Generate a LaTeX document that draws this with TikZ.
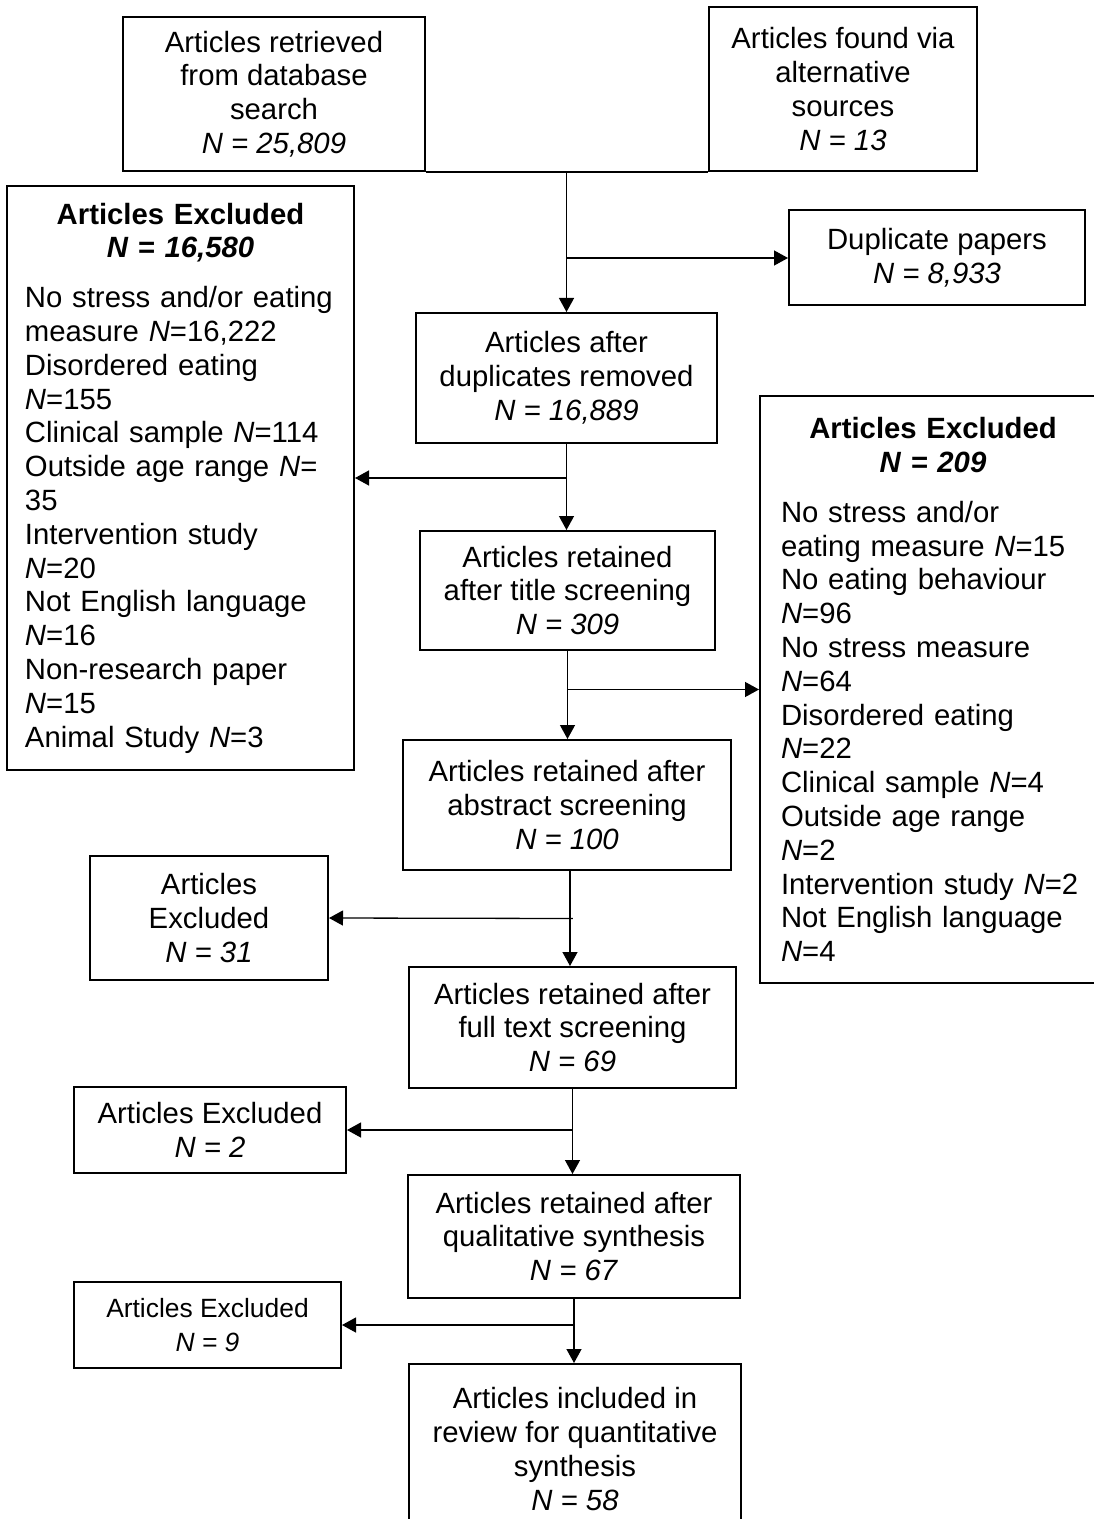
\documentclass[tikz,border=0pt]{standalone}
\usepackage{fontspec}
\setmainfont{Liberation Sans}
\usepackage{tikz}
\usetikzlibrary{calc,arrows.meta}
\newcommand{\boxfont}{\fontsize{14.65}{16.9}\selectfont}
\newcommand{\smallboxfont}{\fontsize{13.2}{16.9}\selectfont}

\begin{document}
\begin{tikzpicture}[
  x=0.5pt, y=-0.5pt,
  stage/.style={draw, line width=1pt, align=center, inner sep=0pt,
    font=\boxfont},
  listbox/.style={draw, line width=1pt, inner xsep=9pt, inner ysep=0pt,
    font=\boxfont},
  link/.style={line width=0.65pt},
  flow/.style={line width=0.65pt, -{Triangle[length=7pt, width=7.5pt]}},
]
  \useasboundingbox (0,0) rectangle (1093,1519);

  % Sources
  \node[stage, minimum width=151pt, minimum height=77pt] (srch) at (274,94)
    {Articles retrieved\\ from database\\ search\\ \textit{N = 25,809}};
  \node[stage, minimum width=134pt, minimum height=82pt] (altsrc) at (843,89)
    {Articles found via\\ alternative\\ sources\\ \textit{N = 13}};
  \node[stage, minimum width=148pt, minimum height=47.5pt] (dupl) at (937,258)
    {Duplicate papers\\ \textit{N = 8,933}};

  % Main column
  \node[stage, minimum width=150.5pt, minimum height=65pt] (dedup) at (566.5,378)
    {Articles after\\ duplicates removed\\ \textit{N = 16,889}};
  \node[stage, minimum width=147.5pt, minimum height=59.5pt] (title) at (567.5,590.5)
    {Articles retained\\ after title screening\\ \textit{N = 309}};
  \node[stage, minimum width=164pt, minimum height=65pt] (abstr) at (567,805)
    {Articles retained after\\ abstract screening\\ \textit{N = 100}};
  \node[stage, minimum width=163.5pt, minimum height=60.5pt] (fullt) at (572.5,1027.5)
    {Articles retained after\\ full text screening\\ \textit{N = 69}};
  \node[stage, minimum width=166pt, minimum height=61.5pt] (quali) at (574,1236.5)
    {Articles retained after\\ qualitative synthesis\\ \textit{N = 67}};
  \node[stage, minimum width=166pt, minimum height=85pt] (incl) at (575,1449)
    {Articles included in\\ review for quantitative\\ synthesis\\ \textit{N = 58}};

  % Exclusion lists
  \node[listbox, text width=155.5pt, minimum height=292pt] (exclA) at (180.5,478)
    {{\centering\textbf{Articles Excluded}\\ \textbf{\textit{N = 16,580}}\par}
     \vspace{8pt}\raggedright\noindent
     No stress and/or eating\\ measure \textit{N}=16,222\\ Disordered eating\\
     \textit{N}=155\\ Clinical sample \textit{N}=114\\ Outside age range \textit{N}=\\
     35\\ Intervention study\\ \textit{N}=20\\ Not English language\\ \textit{N}=16\\
     Non-research paper\\ \textit{N}=15\\ Animal Study \textit{N}=3};
  \node[listbox, inner xsep=10.5pt, text width=152pt, minimum height=293.5pt]
    (exclB) at (933,689.5)
    {{\centering\textbf{Articles Excluded}\\ \textbf{\textit{N = 209}}\par}
     \vspace{8pt}\raggedright\noindent
     No stress and/or\\ eating measure \textit{N}=15\\ No eating behaviour\\
     \textit{N}=96\\ No stress measure\\ \textit{N}=64\\ Disordered eating\\
     \textit{N}=22\\ Clinical sample \textit{N}=4\\ Outside age range\\ \textit{N}=2\\
     Intervention study \textit{N}=2\\ Not English language\\ \textit{N}=4};
  \node[stage, minimum width=119pt, minimum height=62pt] (exclC) at (209,918)
    {Articles\\ Excluded\\ \textit{N = 31}};
  \node[stage, minimum width=136pt, minimum height=43pt] (exclD) at (210,1130)
    {Articles Excluded\\ \textit{N = 2}};
  \node[stage, minimum width=133.5pt, minimum height=43pt, font=\smallboxfont]
    (exclE) at (207.5,1325) {Articles Excluded\\ \textit{N = 9}};

  % Branch points
  \coordinate (j0) at (dedup.north |- srch.south);
  \coordinate (j1) at (dedup.north |- dupl.west);
  \coordinate (j2) at (dedup.south |- exclA.east);
  \coordinate (j3) at (title.south |- exclB.west);
  \coordinate (j4) at ($(abstr.south)!0.5!(fullt.north)$);
  \coordinate (j5) at (fullt.south |- exclD.east);
  \coordinate (j6) at (quali.south |- exclE.east);

  % Connectors
  \draw[link] (srch.south east) -- (altsrc.south west);
  \draw[flow] (j0) -- (dedup.north);
  \draw[flow] (j1) -- (dupl.west);
  \draw[flow] (dedup.south) -- (dedup.south |- title.north);
  \draw[flow] (j2) -- (exclA.east);
  \draw[flow] (title.south) -- (title.south |- abstr.north);
  \draw[flow] (j3) -- (exclB.west);
  \draw[flow] ($(abstr.south)+(3,0)$) -- ($(abstr.south |- fullt.north)+(3,0)$);
  \draw[flow] ($(j4)+(3,0)$) -- (exclC.east);
  \draw[flow] (fullt.south) -- (fullt.south |- quali.north);
  \draw[flow] (j5) -- (exclD.east);
  \draw[flow] (quali.south) -- (quali.south |- incl.north);
  \draw[flow] (j6) -- (exclE.east);
\end{tikzpicture}
\end{document}
